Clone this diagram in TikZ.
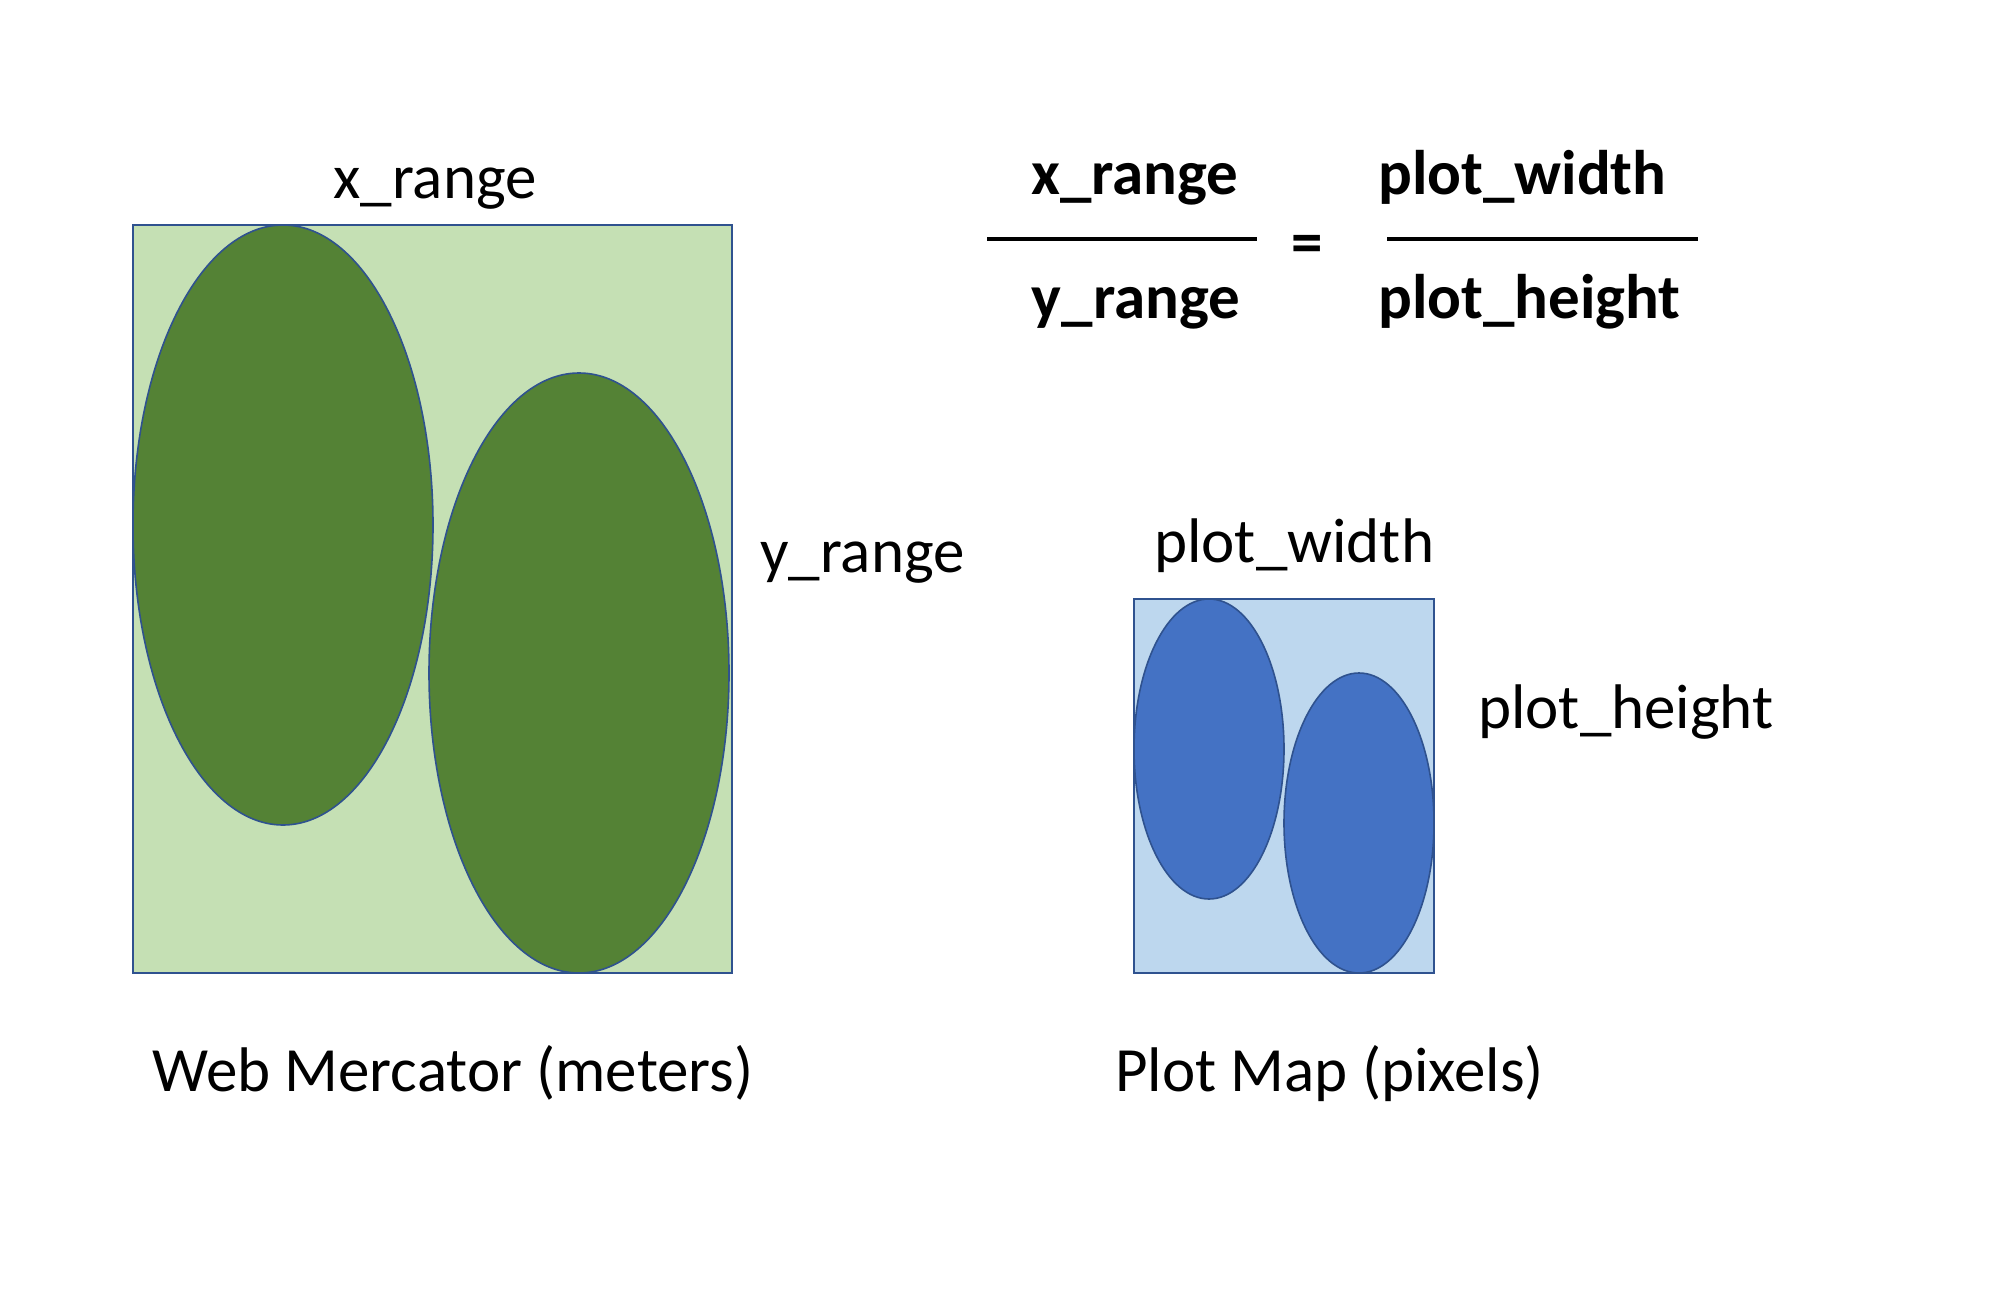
\documentclass[tikz,border=0pt]{standalone}
\usepackage{fontspec}
\setmainfont{Carlito}
\definecolor{lgreen}{HTML}{C5E0B4}
\definecolor{dgreen}{HTML}{548235}
\definecolor{lblue}{HTML}{BDD7EE}
\definecolor{mblue}{HTML}{4472C4}
\definecolor{outl}{HTML}{2F528F}
\begin{document}
\begin{tikzpicture}[x=1pt,y=-1pt,
  lbl/.style={inner sep=0pt, font=\fontsize{63}{76}\selectfont},
  blbl/.style={inner sep=0pt, font=\fontsize{63}{76}\selectfont\bfseries},
  outline/.style={draw=outl, line width=1.6pt},
  fracline/.style={draw=black, line width=3.3pt}]
\useasboundingbox (0,0) rectangle (2004,1308);
\fill[white] (0,0) rectangle (2004,1308);
% Web Mercator panel
\draw[outline, fill=lgreen] (133,225) rectangle (732,973);
\draw[outline, fill=dgreen] (283,525) ellipse [x radius=150pt, y radius=300pt];
\draw[outline, fill=dgreen] (579,673) ellipse [x radius=150pt, y radius=300pt];
% Plot Map panel
\draw[outline, fill=lblue] (1134,599) rectangle (1434,973);
\draw[outline, fill=mblue] (1209,749) ellipse [x radius=75pt, y radius=150pt];
\draw[outline, fill=mblue] (1359,823) ellipse [x radius=75pt, y radius=150pt];
% labels
\node[lbl, anchor=base] (xr) at (435,199) {x\_range};
\node[lbl, anchor=base west] (yr) at (760,572) {y\_range};
\node[lbl, anchor=base west] (pw) at (1154,562) {plot\_width};
\node[lbl, anchor=base west] (ph) at (1478,728) {plot\_height};
\node[lbl, anchor=base west] (wm) at (152,1091) {Web Mercator (meters)};
\node[lbl, anchor=base west] (pm) at (1115,1091) {Plot Map (pixels)};
% formula
\node[blbl, anchor=base] (fxr) at (1135,195) {x\_range};
\node[blbl, anchor=base] (fyr) at (1136,318) {y\_range};
\node[blbl, anchor=base west] (fpw) at (1378,195) {plot\_width};
\node[blbl, anchor=base west] (fph) at (1378,318) {plot\_height};
\node[blbl, anchor=base] (eq) at (1307,263) {=};
\coordinate (l1a) at (987,239);
\coordinate (l1b) at (1257,239);
\coordinate (l2a) at (1387,239);
\coordinate (l2b) at (1698,239);
\draw[fracline] (l1a) -- (l1b);
\draw[fracline] (l2a) -- (l2b);
\end{tikzpicture}
\end{document}
